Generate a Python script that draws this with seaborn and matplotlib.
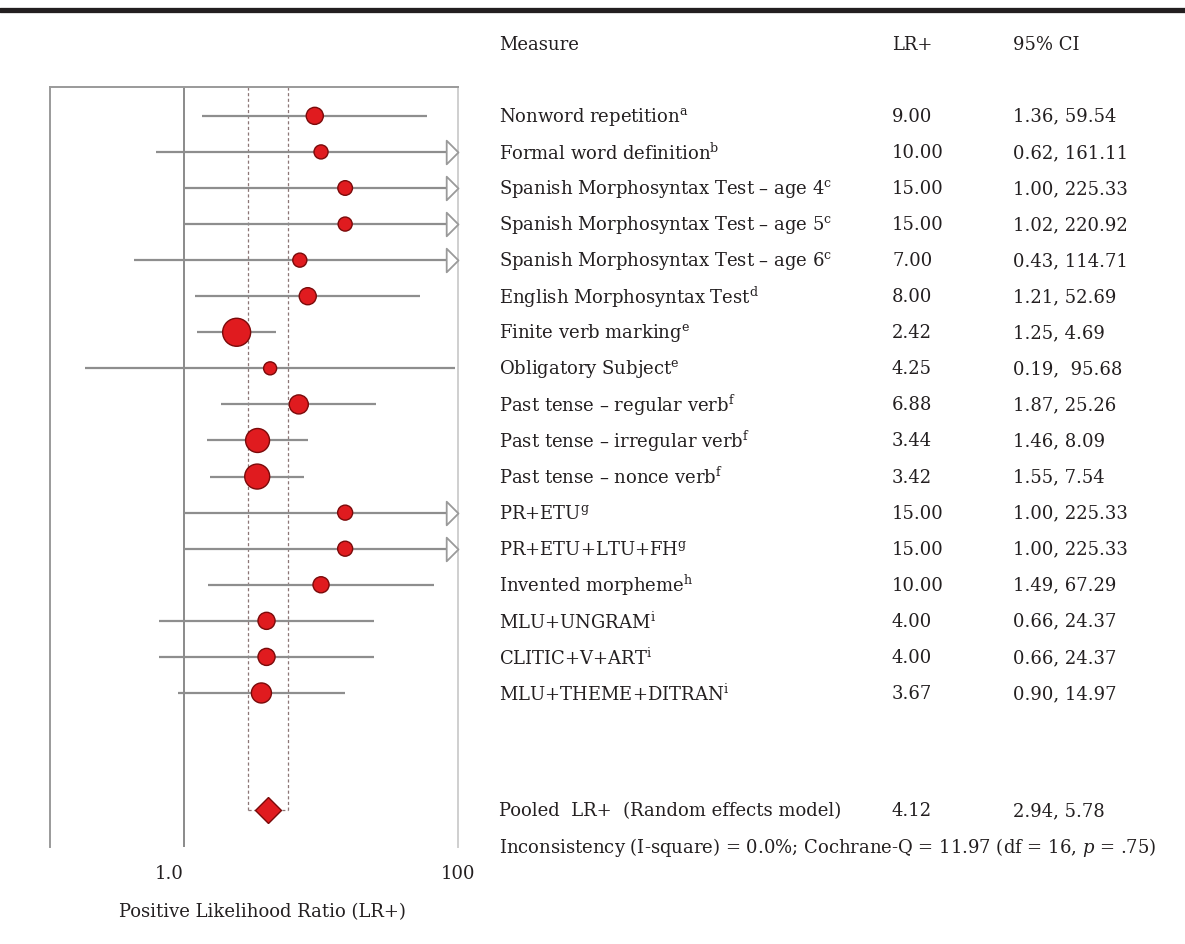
import matplotlib
matplotlib.use("Agg")
import matplotlib.pyplot as plt
import matplotlib.transforms as mtransforms
from matplotlib.path import Path
from matplotlib.lines import Line2D
from matplotlib.ticker import NullLocator
import seaborn as sns
import pandas as pd

# ---- data ----
measures = [
    "Nonword repetition", "Formal word definition",
    "Spanish Morphosyntax Test \u2013 age 4", "Spanish Morphosyntax Test \u2013 age 5",
    "Spanish Morphosyntax Test \u2013 age 6", "English Morphosyntax Test",
    "Finite verb marking", "Obligatory Subject",
    "Past tense \u2013 regular verb", "Past tense \u2013 irregular verb",
    "Past tense \u2013 nonce verb", "PR+ETU", "PR+ETU+LTU+FH",
    "Invented morpheme", "MLU+UNGRAM", "CLITIC+V+ART", "MLU+THEME+DITRAN",
]
notes = ["a", "b", "c", "c", "c", "d", "e", "e", "f", "f", "f", "g", "g", "h", "i", "i", "i"]
lr = [9.00, 10.00, 15.00, 15.00, 7.00, 8.00, 2.42, 4.25, 6.88, 3.44, 3.42,
      15.00, 15.00, 10.00, 4.00, 4.00, 3.67]
ci_low = [1.36, 0.62, 1.00, 1.02, 0.43, 1.21, 1.25, 0.19, 1.87, 1.46, 1.55,
          1.00, 1.00, 1.49, 0.66, 0.66, 0.90]
ci_high = [59.54, 161.11, 225.33, 220.92, 114.71, 52.69, 4.69, 95.68, 25.26, 8.09, 7.54,
           225.33, 225.33, 67.29, 24.37, 24.37, 14.97]
ci_text = ["1.36, 59.54", "0.62, 161.11", "1.00, 225.33", "1.02, 220.92", "0.43, 114.71",
           "1.21, 52.69", "1.25, 4.69", "0.19,  95.68", "1.87, 25.26", "1.46, 8.09",
           "1.55, 7.54", "1.00, 225.33", "1.00, 225.33", "1.49, 67.29", "0.66, 24.37",
           "0.66, 24.37", "0.90, 14.97"]
# relative study weights (%), shown as marker area
weights = [5.2, 3.5, 3.8, 3.5, 3.5, 5.2, 14.1, 3.0, 6.5, 10.3, 11.2,
           4.0, 4.0, 4.6, 5.2, 5.2, 7.2]

pooled_label = "Pooled  LR+  (Random effects model)"
pooled_lr = 4.12
pooled_low, pooled_high = 2.94, 5.78
stats_line = "Inconsistency (I-square) = 0.0%; Cochrane-Q = 11.97 (df = 16, $\\mathit{p}$ = .75)"

df = pd.DataFrame({"measure": measures, "lr": lr, "low": ci_low,
                   "high": ci_high, "weight": weights})
df["row"] = range(len(df))

# ---- style ----
sns.set_style("white")
plt.rcParams["font.family"] = ["DejaVu Serif"]
plt.rcParams["mathtext.fontset"] = "dejavuserif"
txt_color = "#231f20"
red = "#e01b1f"
dark_red = "#7a0a0a"

W, H = 1185, 945
fig = plt.figure(figsize=(W / 100, H / 100), dpi=100)
ax = fig.add_axes([50 / W, 1 - 848 / H, 408 / W, 760 / H])

x_max = 100
pooled_row = 19.25
y_top, y_bot = -0.80, 20.27

ax.set_xscale("log")

# null line
ax.axvline(1, color="#8a8a8a", lw=1.4, zorder=1)

# pooled CI dashed box
dash = dict(color="#8c7777", lw=0.9, linestyles=(0, (2.5, 2)), zorder=1)
ax.vlines([pooled_low, pooled_high], y_top, pooled_row, **dash)
ax.hlines(pooled_row, pooled_low, pooled_high, **dash)

# CI lines
ax.hlines(df["row"], df["low"], df["high"].clip(upper=x_max),
          color="#8e8e8e", lw=1.6, zorder=2)

# open arrows for CIs that run past the axis
tip = Path([(0, 0), (-1, 1), (-1, -1), (0, 0)],
           [Path.MOVETO, Path.LINETO, Path.LINETO, Path.CLOSEPOLY])
over = df[df["high"] > x_max]
ax.plot([x_max] * len(over), over["row"], ls="none", marker=tip, ms=17,
        mfc="white", mec="#9a9a9a", mew=1.3, zorder=4, clip_on=False)

# study points
sns.scatterplot(data=df, x="lr", y="row", size="weight", sizes=(88, 406),
                size_norm=(3.0, 14.1), color=red, edgecolor=dark_red,
                linewidth=1.0, legend=False, ax=ax, zorder=5)

# pooled diamond
ax.plot([pooled_lr], [pooled_row], ls="none", marker="D", ms=13,
        mfc=red, mec=dark_red, mew=1.0, zorder=5)

ax.set_xlim(0.105, x_max)
ax.set_ylim(y_bot, y_top)
ax.set_xlabel("")
ax.set_ylabel("")
ax.set_yticks([])
ax.xaxis.set_minor_locator(NullLocator())
ax.set_xticks([1, 100])
ax.set_xticklabels(["1.0", "100"])
ax.tick_params(axis="x", length=0, pad=12, labelsize=13, labelcolor=txt_color)
ax.get_xticklabels()[0].set_ha("right")

for side in ["top", "left"]:
    ax.spines[side].set_color("#9a9a9a")
    ax.spines[side].set_linewidth(1.4)
ax.spines["right"].set_color("#cfcfcf")
ax.spines["right"].set_linewidth(1.4)
ax.spines["bottom"].set_visible(False)

fig.text(262 / W, 1 - 912 / H, "Positive Likelihood Ratio (LR+)", ha="center",
         va="center", fontsize=13, color=txt_color)

# top rule
fig.add_artist(Line2D([0, 1], [1 - 10.5 / H] * 2, transform=fig.transFigure,
                      color="#231f20", lw=3.8))

# ---- table on the right ----
col_measure, col_lr, col_ci = 499 / W, 892 / W, 1013 / W
fs = 13
hy = 1 - 45 / H
fig.text(col_measure, hy, "Measure", va="center", fontsize=fs, color=txt_color)
fig.text(col_lr, hy, "LR+", va="center", fontsize=fs, color=txt_color)
fig.text(col_ci, hy, "95% CI", va="center", fontsize=fs, color=txt_color)

tr = mtransforms.blended_transform_factory(fig.transFigure, ax.transData)
for i, r in df.iterrows():
    fig.text(col_measure, r["row"], r["measure"] + "$^{\\mathregular{%s}}$" % notes[i],
             transform=tr, va="center", fontsize=fs, color=txt_color)
    fig.text(col_lr, r["row"], "%.2f" % r["lr"], transform=tr, va="center",
             fontsize=fs, color=txt_color)
    fig.text(col_ci, r["row"], ci_text[i], transform=tr, va="center",
             fontsize=fs, color=txt_color)

fig.text(col_measure, pooled_row, pooled_label, transform=tr, va="center",
         fontsize=fs, color=txt_color)
fig.text(col_lr, pooled_row, "%.2f" % pooled_lr, transform=tr, va="center",
         fontsize=fs, color=txt_color)
fig.text(col_ci, pooled_row, "%.2f, %.2f" % (pooled_low, pooled_high), transform=tr,
         va="center", fontsize=fs, color=txt_color)
fig.text(col_measure, 1 - 848 / H, stats_line, va="center", fontsize=fs, color=txt_color)

fig.savefig("out.png", dpi=100)
